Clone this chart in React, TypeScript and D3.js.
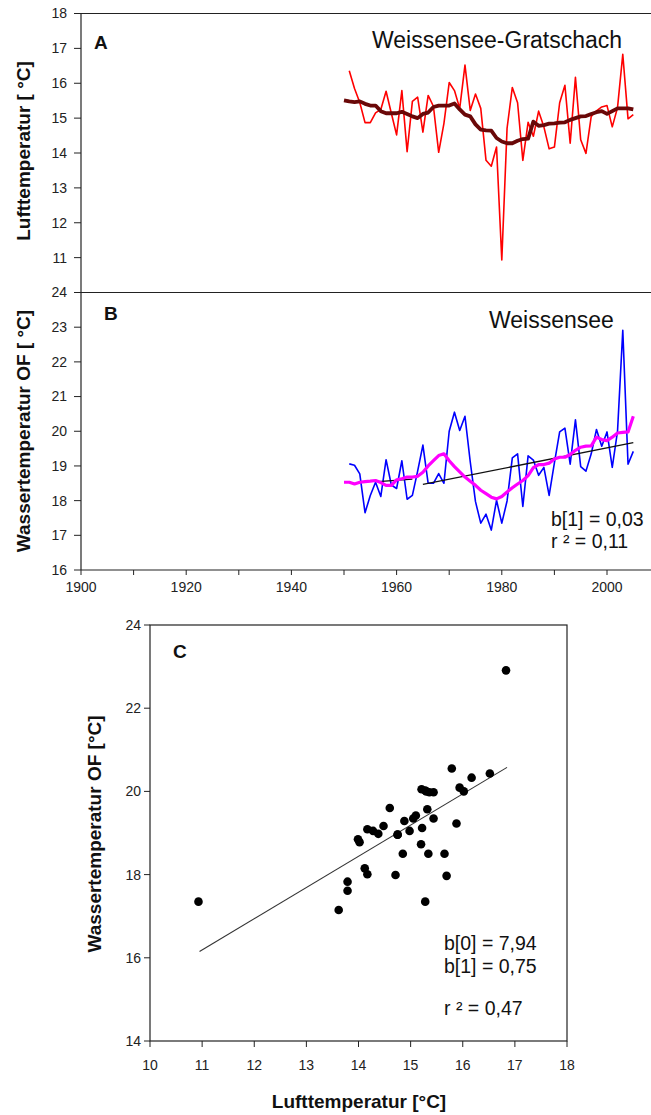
import React from "react";
import * as d3 from "d3";

// ---------- DATA ----------
// Annual air temperature, Weissensee-Gratschach (°C), 1951–2005
const AIR_START = 1951;
const airTemp = [
  16.36, 15.85, 15.45, 14.87, 14.87, 15.15, 15.25, 15.77, 15.14, 14.52,
  15.79, 14.04, 15.48, 15.6, 14.6, 15.65, 15.34, 14.02, 14.85, 16.02,
  15.79, 15.28, 16.52, 15.22, 15.69, 15.28, 13.79, 13.62, 14.17, 10.93,
  14.71, 15.88, 15.44, 13.79, 14.88, 14.48, 15.2, 14.75, 14.12, 14.17,
  15.44, 15.94, 14.28, 16.17, 14.38, 13.99, 15.05, 15.21, 15.32, 15.36,
  14.75, 15.3, 16.83, 14.98, 15.1,
];
// Smoothed air temperature, 1950–2005
const SMOOTH_START = 1950;
const airSmooth = [
  15.51, 15.48, 15.46, 15.48, 15.41, 15.36, 15.36, 15.2, 15.14, 15.14,
  15.14, 15.18, 15.12, 15.05, 15.0, 15.12, 15.16, 15.32, 15.36, 15.36,
  15.36, 15.42, 15.25, 15.1, 15.05, 14.82, 14.67, 14.65, 14.64, 14.43,
  14.33, 14.28, 14.28, 14.35, 14.4, 14.41, 14.9, 14.78, 14.8, 14.84,
  14.85, 14.87, 14.88, 14.95, 15.0, 15.05, 15.06, 15.12, 15.17, 15.2,
  15.12, 15.2, 15.28, 15.28, 15.28, 15.25,
];
// Annual surface water temperature, Weissensee (°C), 1951–2005
const waterTemp = [
  19.06, 19.02, 18.77, 17.65, 18.15, 18.53, 18.12, 19.18, 18.45, 18.35,
  19.15, 18.04, 18.15, 18.85, 19.6, 18.5, 18.5, 18.78, 18.5, 20.0,
  20.55, 20.02, 20.43, 19.12, 17.97, 17.35, 17.61, 17.15, 18.01, 17.35,
  17.99, 19.23, 19.35, 17.83, 19.29, 19.17, 18.73, 18.96, 18.15, 19.09,
  19.98, 20.09, 19.05, 20.33, 18.98, 18.85, 19.35, 20.05, 19.57, 19.98,
  18.96, 20.0, 22.91, 19.05, 19.42,
];
// Smoothed water temperature, 1950–2005
const waterSmooth = [
  18.53, 18.53, 18.48, 18.53, 18.55, 18.56, 18.58, 18.52, 18.44, 18.44,
  18.6, 18.63, 18.68, 18.68, 18.7, 18.82, 19.0, 19.15, 19.3, 19.35,
  19.15, 18.98, 18.83, 18.68, 18.56, 18.44, 18.3, 18.2, 18.1, 18.05,
  18.12, 18.25, 18.37, 18.48, 18.58, 18.72, 18.95, 19.04, 19.04, 19.08,
  19.2, 19.25, 19.25, 19.33, 19.45, 19.54, 19.57, 19.58, 19.83, 19.76,
  19.73, 19.83, 19.95, 19.97, 19.98, 20.43,
];
// Linear trend segments in panel B: [startYear, startValue, endYear, endValue]
const trendStartYears = [1956.5, 1965];
const trendStartValues = [18.55, 18.47];
const trendEndYears = [1963, 2005];
const trendEndValues = [18.62, 19.67];
// Scatter: years used for panel C
const SCATTER_FROM = 1965;
const SCATTER_TO = 2005;
// Regression panel C
const regB0 = 7.94;
const regB1 = 0.75;
const regXRange = [10.95, 16.85];

// Ticks
const yearTicks = [1900, 1910, 1920, 1930, 1940, 1950, 1960, 1970, 1980, 1990, 2000, 2010];
const yearLabels = [1900, 1920, 1940, 1960, 1980, 2000];
const aTicks = [11, 12, 13, 14, 15, 16, 17, 18];
const bTicks = [16, 17, 18, 19, 20, 21, 22, 23, 24];
const cXTicks = [10, 11, 12, 13, 14, 15, 16, 17, 18];
const cYTicks = [14, 16, 18, 20, 22, 24];

const FONT = "'Liberation Sans', Arial, Helvetica, sans-serif";

export default function App() {
  const xYear = d3.scaleLinear().domain([1900, 2010]).range([81, 659.6]);
  const yA = d3.scaleLinear().domain([10, 18]).range([292.5, 13.5]);
  const yB = d3.scaleLinear().domain([16, 24]).range([570, 292.5]);
  const xC = d3.scaleLinear().domain([10, 18]).range([150, 567]);
  const yC = d3.scaleLinear().domain([14, 24]).range([1041, 625]);

  const series = (vals: number[], start: number) =>
    vals.map((v, i) => [start + i, v] as [number, number]);

  const lineA = d3.line<[number, number]>().x((d) => xYear(d[0])).y((d) => yA(d[1]));
  const lineB = d3.line<[number, number]>().x((d) => xYear(d[0])).y((d) => yB(d[1]));

  const scatter: { air: number; water: number }[] = [];
  for (let yr = SCATTER_FROM; yr <= SCATTER_TO; yr++) {
    scatter.push({ air: airTemp[yr - AIR_START], water: waterTemp[yr - AIR_START] });
  }

  const tickFs = 14;
  const left = 81;
  const rightEdge = 660;

  return (
    <svg
      width={651}
      height={1115}
      style={{ position: "absolute", left: 0, top: 0, background: "#fff" }}
      fontFamily={FONT}
    >
      {/* ---------- Panels A & B frame ---------- */}
      <line x1={left} x2={rightEdge} y1={yA(18)} y2={yA(18)} stroke="#222" strokeWidth={1.2} />
      <line x1={74} x2={rightEdge} y1={yB(24)} y2={yB(24)} stroke="#222" strokeWidth={1.2} />
      <line x1={left} x2={rightEdge} y1={yB(16)} y2={yB(16)} stroke="#222" strokeWidth={1.2} />
      <line x1={left} x2={left} y1={yA(18)} y2={yB(16)} stroke="#222" strokeWidth={1.2} />
      <line x1={xYear(2010)} x2={xYear(2010)} y1={yA(18)} y2={yB(16)} stroke="#222" strokeWidth={1.2} />

      {aTicks.map((t) => (
        <g key={"a" + t}>
          <line x1={74} x2={left} y1={yA(t)} y2={yA(t)} stroke="#222" strokeWidth={1} />
          <text x={67} y={yA(t)} dy="0.35em" textAnchor="end" fontSize={tickFs} fill="#222">
            {t}
          </text>
        </g>
      ))}
      {bTicks.map((t) => (
        <g key={"b" + t}>
          <line x1={74} x2={left} y1={yB(t)} y2={yB(t)} stroke="#222" strokeWidth={1} />
          <text x={67} y={yB(t)} dy="0.35em" textAnchor="end" fontSize={tickFs} fill="#222">
            {t}
          </text>
        </g>
      ))}
      {yearTicks.map((t) => (
        <line key={"yt" + t} x1={xYear(t)} x2={xYear(t)} y1={yB(16)} y2={yB(16) + 5} stroke="#222" strokeWidth={1} />
      ))}
      {yearLabels.map((t) => (
        <text key={"yl" + t} x={xYear(t)} y={592} textAnchor="middle" fontSize={tickFs} fill="#222">
          {t}
        </text>
      ))}

      {/* Axis titles A/B */}
      <text transform="translate(30,151) rotate(-90)" textAnchor="middle" fontSize={19} fontWeight="bold" fill="#111">
        Lufttemperatur [ °C]
      </text>
      <text transform="translate(30,431) rotate(-90)" textAnchor="middle" fontSize={19} fontWeight="bold" fill="#111">
        Wassertemperatur OF [ °C]
      </text>

      {/* Panel A content */}
      <text x={94} y={49} fontSize={19} fontWeight="bold" fill="#111">A</text>
      <text x={372} y={48} fontSize={23} fill="#111">Weissensee-Gratschach</text>
      <path d={lineA(series(airTemp, AIR_START)) || ""} fill="none" stroke="#ff0000" strokeWidth={1.6} strokeLinejoin="round" />
      <path d={lineA(series(airSmooth, SMOOTH_START)) || ""} fill="none" stroke="#6a0808" strokeWidth={3.8} strokeLinejoin="round" />

      {/* Panel B content */}
      <text x={104} y={320} fontSize={19} fontWeight="bold" fill="#111">B</text>
      <text x={489} y={328} fontSize={23} fill="#111">Weissensee</text>
      <path d={lineB(series(waterTemp, AIR_START)) || ""} fill="none" stroke="#0000ff" strokeWidth={1.6} strokeLinejoin="round" />
      {trendStartYears.map((sy, i) => (
        <line
          key={"tr" + i}
          x1={xYear(sy)}
          y1={yB(trendStartValues[i])}
          x2={xYear(trendEndYears[i])}
          y2={yB(trendEndValues[i])}
          stroke="#111"
          strokeWidth={1.3}
        />
      ))}
      <path d={lineB(series(waterSmooth, SMOOTH_START)) || ""} fill="none" stroke="#ff00ff" strokeWidth={3.2} strokeLinejoin="round" />
      <text x={551} y={526} fontSize={19.5} fill="#111">b[1] = 0,03</text>
      <text x={551} y={548} fontSize={19.5} fill="#111">r ² = 0,11</text>

      {/* ---------- Panel C ---------- */}
      <rect x={xC(10)} y={yC(24)} width={xC(18) - xC(10)} height={yC(14) - yC(24)} fill="none" stroke="#222" strokeWidth={1.2} />
      {cXTicks.map((t) => (
        <g key={"cx" + t}>
          <line x1={xC(t)} x2={xC(t)} y1={yC(14)} y2={yC(14) + 6} stroke="#222" strokeWidth={1} />
          <text x={xC(t)} y={1070} textAnchor="middle" fontSize={tickFs} fill="#222">{t}</text>
        </g>
      ))}
      {cYTicks.map((t) => (
        <g key={"cy" + t}>
          <line x1={xC(10) - 6} x2={xC(10)} y1={yC(t)} y2={yC(t)} stroke="#222" strokeWidth={1} />
          <text x={141} y={yC(t)} dy="0.35em" textAnchor="end" fontSize={tickFs} fill="#222">{t}</text>
        </g>
      ))}
      <text x={173} y={658} fontSize={19} fontWeight="bold" fill="#111">C</text>
      <line
        x1={xC(regXRange[0])}
        y1={yC(regB0 + regB1 * regXRange[0])}
        x2={xC(regXRange[1])}
        y2={yC(regB0 + regB1 * regXRange[1])}
        stroke="#333"
        strokeWidth={1.1}
      />
      {scatter.map((d, i) => (
        <circle key={"p" + i} cx={xC(d.air)} cy={yC(d.water)} r={4.3} fill="#000" />
      ))}
      <text x={444} y={950} fontSize={19.5} fill="#111">b[0] = 7,94</text>
      <text x={444} y={973} fontSize={19.5} fill="#111">b[1] = 0,75</text>
      <text x={444} y={1015} fontSize={19.5} fill="#111">r ² = 0,47</text>

      <text transform="translate(101,834) rotate(-90)" textAnchor="middle" fontSize={19} fontWeight="bold" fill="#111">
        Wassertemperatur OF [°C]
      </text>
      <text x={359} y={1108} textAnchor="middle" fontSize={19} fontWeight="bold" fill="#111">
        Lufttemperatur [°C]
      </text>
    </svg>
  );
}
